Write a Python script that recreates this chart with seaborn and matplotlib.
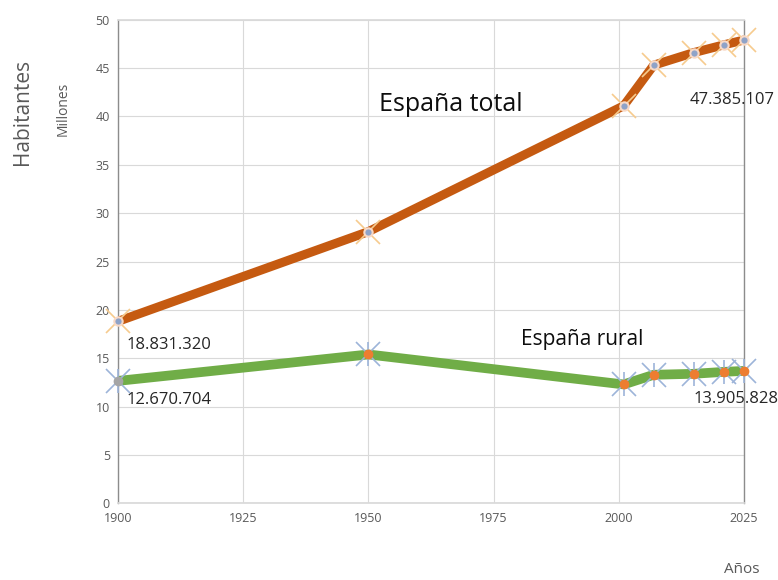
import matplotlib
matplotlib.use("Agg")
import matplotlib.pyplot as plt
import pandas as pd
import seaborn as sns

# Años y población (millones)
years = [1900, 1950, 2001, 2007, 2015, 2021, 2025]
total = [18.83, 28.1, 41.1, 45.3, 46.6, 47.4, 47.9]
rural = [12.67, 15.4, 12.3, 13.3, 13.4, 13.6, 13.7]

df = pd.DataFrame({"year": years, "total": total, "rural": rural})

sns.set_theme(style="white")
plt.rcParams["font.family"] = ["Open Sans", "DejaVu Sans"]

grey = "#595959"
c_total = "#C55A11"
c_rural = "#70AD47"

fig = plt.figure(figsize=(7.78, 5.80), dpi=100)
ax = fig.add_axes([0.152, 0.132, 0.804, 0.834])

# líneas
sns.lineplot(data=df, x="year", y="total", color=c_total, linewidth=6.5, ax=ax, zorder=3)
sns.lineplot(data=df, x="year", y="rural", color=c_rural, linewidth=7, ax=ax, zorder=3)

# marcadores España total: aspa clara + círculo pequeño
ax.plot(df["year"], df["total"], linestyle="none", marker="x", markersize=17,
        markeredgewidth=1.2, color="#F6CB8E", zorder=4, clip_on=False)
ax.plot(df["year"], df["total"], linestyle="none", marker="o", markersize=6,
        markerfacecolor="#8FA3C8", markeredgecolor="#F8D9C6", markeredgewidth=1.5,
        zorder=5, clip_on=False)

# marcadores España rural: asterisco azul + punto naranja
ax.plot(df["year"], df["rural"], linestyle="none", marker="x", markersize=17,
        markeredgewidth=1.2, color="#9DB4D9", zorder=4, clip_on=False)
ax.plot(df["year"], df["rural"], linestyle="none", marker="|", markersize=17,
        markeredgewidth=1.2, color="#9DB4D9", zorder=4, clip_on=False)
ax.plot(df.loc[1:, "year"], df.loc[1:, "rural"], linestyle="none", marker="o", markersize=6,
        color="#ED7D31", zorder=5, clip_on=False)
ax.plot(df.loc[:0, "year"], df.loc[:0, "rural"], linestyle="none", marker="o", markersize=6,
        color="#A5A5A5", zorder=5, clip_on=False)

ax.set_xlim(1900, 2025)
ax.set_ylim(0, 50)
ax.set_xticks([1900, 1925, 1950, 1975, 2000, 2025])
ax.set_yticks(range(0, 51, 5))
ax.grid(True, color="#D9D9D9", linewidth=0.8)
ax.tick_params(axis="both", labelsize=9, colors=grey, length=0, pad=6)
for side in ["top", "bottom"]:
    ax.spines[side].set_color("#D9D9D9")
for side in ["left", "right"]:
    ax.spines[side].set_color("#8C8C8C")
    ax.spines[side].set_linewidth(1.0)
ax.set_xlabel("")
ax.set_ylabel("")

# textos
lab = dict(fontsize=12, color="#262626", va="center")
ax.text(1901.7, 16.4, "18.831.320", **lab)
ax.text(1901.7, 10.7, "12.670.704", **lab)
ax.text(2014.1, 41.7, "47.385.107", **lab)
ax.text(2015.0, 10.8, "13.905.828", **lab)
ax.text(1952.2, 41.2, "España total", fontsize=18, color="#0D0D0D", va="center")
ax.text(1980.5, 16.9, "España rural", fontsize=15, color="#0D0D0D", va="center")

fig.text(0.029, 0.807, "Habitantes", rotation=90, fontsize=15, color=grey,
         ha="center", va="center")
fig.text(0.081, 0.812, "Millones", rotation=90, fontsize=10, color=grey,
         ha="center", va="center")
fig.text(0.953, 0.018, "Años", fontsize=11, color=grey, ha="center", va="center")

fig.savefig("out.png", dpi=100, facecolor="white")
